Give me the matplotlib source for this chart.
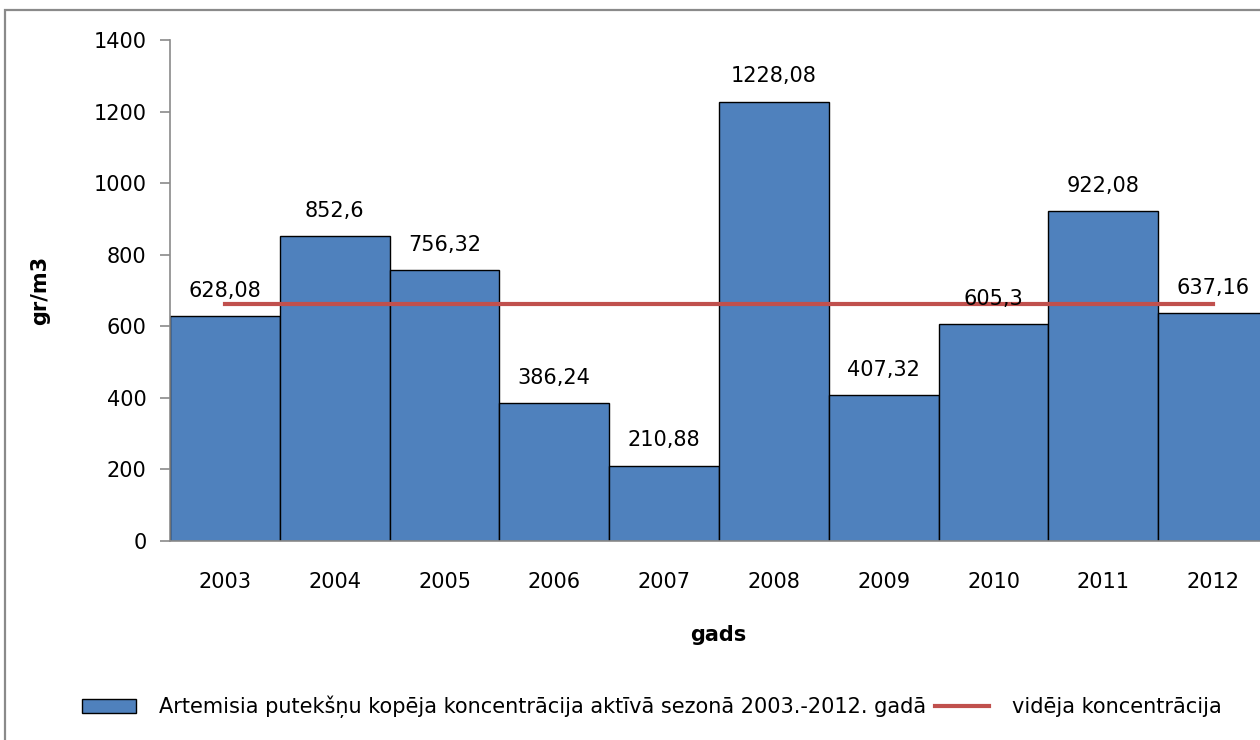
import matplotlib.pyplot as plt
import numpy as np
from matplotlib.patches import Patch, Rectangle
from matplotlib.lines import Line2D

plt.rc("font", family="DejaVu Sans", size=15)

years = ["2003", "2004", "2005", "2006", "2007", "2008", "2009", "2010", "2011", "2012"]
values = [628.08, 852.6, 756.32, 386.24, 210.88, 1228.08, 407.32, 605.3, 922.08, 637.16]
value_labels = ["628,08", "852,6", "756,32", "386,24", "210,88", "1228,08", "407,32", "605,3", "922,08", "637,16"]
mean_value = np.mean(values)

bar_name = "Artemisia putekšņu kopēja koncentrācija aktīvā sezonā 2003.-2012. gadā"
line_name = "vidēja koncentrācija"

fig = plt.figure(figsize=(12.6, 7.4), dpi=100)

# chart frame (cut off on the right and bottom like the source)
fig.patches.append(Rectangle((5 / 1260, -0.2), 1.2, 1.2 - 10 / 740, transform=fig.transFigure,
                             fill=False, edgecolor="#8a8a8a", linewidth=1.6))

ax = fig.add_axes([170 / 1260, 1 - 541 / 740, 1098 / 1260, 501 / 740])

x = np.arange(len(years))
ax.bar(x, values, width=1.0, color="#4F81BD", edgecolor="black", linewidth=1.0, zorder=2)
ax.plot([x[0], x[-1]], [mean_value, mean_value], color="#C0504D", linewidth=3, zorder=3)

for xi, v, lab in zip(x, values, value_labels):
    ax.annotate(lab, (xi, v), xytext=(0, 11), textcoords="offset points",
                ha="center", va="bottom", fontsize=15)

ax.set_xlim(-0.5, len(years) - 0.5)
ax.set_ylim(0, 1400)
ax.set_yticks(np.arange(0, 1401, 200))
ax.set_xticks(x)
ax.set_xticklabels(years)
ax.tick_params(axis="x", length=0, pad=22)
ax.tick_params(axis="y", length=7, color="#8a8a8a", width=1.2, pad=10)

for side in ["top", "right"]:
    ax.spines[side].set_visible(False)
for side in ["left", "bottom"]:
    ax.spines[side].set_color("#8a8a8a")
    ax.spines[side].set_linewidth(1.2)
    ax.spines[side].set_zorder(4)

ax.set_ylabel("gr/m3", fontweight="bold", fontsize=15)
ax.yaxis.set_label_coords(-(170 - 40) / 1098, (541 - 290) / 501)
ax.set_xlabel("gads", fontweight="bold", fontsize=15)
ax.xaxis.set_label_coords(548 / 1098, -(635 - 541) / 501)
ax.xaxis.label.set_va("center")
ax.yaxis.label.set_va("center")

handles = [Patch(facecolor="#4F81BD", edgecolor="black", linewidth=1.0),
           Line2D([0], [0], color="#C0504D", linewidth=3)]
fig.legend(handles, [bar_name, line_name], loc="center", ncol=2, frameon=False,
           bbox_to_anchor=(652 / 1260, 1 - 707 / 740), handlelength=2.6,
           handletextpad=1.1, columnspacing=0.4, fontsize=15)

fig.savefig("out.png", dpi=100)
